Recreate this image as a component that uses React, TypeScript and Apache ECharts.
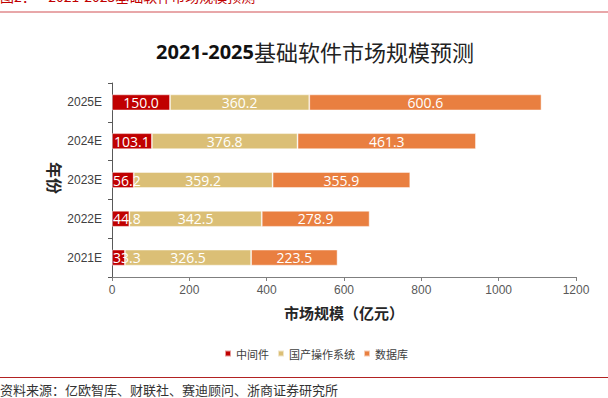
import React, { useEffect, useRef } from "react";
import * as echarts from "echarts";

const categories = ["2021E", "2022E", "2023E", "2024E", "2025E"];
const middleware = [33.3, 44.8, 56.2, 103.1, 150.0];
const domesticOS = [326.5, 342.5, 359.2, 376.8, 360.2];
const database = [223.5, 278.9, 355.9, 461.3, 600.6];
const seriesNames = ["中间件", "国产操作系统", "数据库"];
const seriesColors = ["#C00000", "#DBBF76", "#E97F40"];
const xTicks = { min: 0, max: 1200, interval: 200 };

const CJK = '"Noto Sans CJK SC", "Noto Sans", sans-serif';

export default function App() {
  const ref = useRef<HTMLDivElement>(null);
  useEffect(() => {
    if (!ref.current) return;
    const chart = echarts.init(ref.current, null, { renderer: "svg" });
    const values = [middleware, domesticOS, database];
    const plotWidth = 608 - 112 - 32;
    const pxPerUnit = plotWidth / (xTicks.max - xTicks.min);
    chart.setOption({
      animation: false,
      backgroundColor: "#ffffff",
      grid: { left: 112, right: 32, top: 83, bottom: 121, containLabel: false },
      legend: {
        left: 219,
        top: 343,
        icon: "rect",
        itemWidth: 6,
        itemHeight: 6,
        itemGap: 8,
        textStyle: { fontFamily: CJK, fontSize: 11, color: "#404040" },
        data: seriesNames,
      },
      xAxis: {
        type: "value",
        min: xTicks.min,
        max: xTicks.max,
        interval: xTicks.interval,
        splitLine: { show: false },
        axisLine: { show: true, lineStyle: { color: "#7f7f7f", width: 1 } },
        axisTick: { show: true, length: 4, lineStyle: { color: "#7f7f7f" } },
        axisLabel: {
          color: "#595959",
          fontSize: 12,
          fontFamily: '"Liberation Sans", Arial, sans-serif',
          margin: 7,
          formatter: (v: number) => String(v),
        },
      },
      yAxis: {
        type: "category",
        data: categories,
        boundaryGap: true,
        axisLine: { show: true, lineStyle: { color: "#595959", width: 1 } },
        axisTick: { show: true, length: 4, inside: false, lineStyle: { color: "#595959" } },
        axisLabel: { color: "#404040", fontSize: 12, fontFamily: '"Liberation Sans", Arial, sans-serif', margin: 10 },
      },
      series: seriesNames.map((name, i) => ({
        name,
        type: "bar",
        stack: "total",
        barWidth: 16,
        z: i === 0 ? 6 : 2,
        data: values[i].map((v) => {
          const small = i === 0 && v * pxPerUnit < 36;
          return small
            ? { value: v, label: { position: "insideLeft", distance: 1 } }
            : { value: v };
        }),
        itemStyle: { color: seriesColors[i], borderColor: "rgba(255,255,255,0.6)", borderWidth: 0.8 },
        label: {
          show: true,
          position: "inside",
          color: "#ffffff",
          fontSize: 14,
          fontFamily: '"Open Sans", sans-serif',
          formatter: (p: any) => Number(p.value).toFixed(1),
        },
      })),
      graphic: [
        {
          type: "text",
          left: 0,
          top: -11,
          style: {
            text: "图2：    2021-2025基础软件市场规模预测",
            fill: "#C00000",
            font: `14px ${CJK}`,
          },
        },
        {
          type: "line",
          shape: { x1: 0, y1: 12, x2: 608, y2: 12 },
          style: { stroke: "#E08A8C", lineWidth: 1.5 },
        },
        {
          type: "text",
          x: 315,
          y: 51,
          style: {
            text: "{a|2021-2025}{b|基础软件市场规模预测}",
            align: "center",
            verticalAlign: "middle",
            rich: {
              a: { fontFamily: '"Open Sans", sans-serif', fontWeight: "bold", fontSize: 20, fill: "#111" },
              b: { fontFamily: CJK, fontWeight: "normal", fontSize: 22, fill: "#222" },
            },
          },
        },
        {
          type: "text",
          x: 344,
          y: 312,
          style: {
            text: "市场规模（亿元）",
            align: "center",
            verticalAlign: "middle",
            font: `bold 15px ${CJK}`,
            fill: "#262626",
          },
        },
        {
          type: "text",
          x: 55,
          y: 178,
          rotation: -Math.PI / 2,
          style: {
            text: "年份",
            align: "center",
            verticalAlign: "middle",
            font: `bold 16px ${CJK}`,
            fill: "#262626",
          },
        },
        {
          type: "line",
          shape: { x1: 0, y1: 377.5, x2: 608, y2: 377.5 },
          style: { stroke: "#B22222", lineWidth: 1 },
        },
        {
          type: "text",
          x: 0,
          y: 389,
          style: {
            text: "资料来源：亿欧智库、财联社、赛迪顾问、浙商证券研究所",
            verticalAlign: "middle",
            font: `13px ${CJK}`,
            fill: "#333333",
          },
        },
      ],
    });
    return () => chart.dispose();
  }, []);
  return (
    <div
      ref={ref}
      style={{ position: "fixed", left: 0, top: 0, width: 608, height: 398 }}
    />
  );
}
